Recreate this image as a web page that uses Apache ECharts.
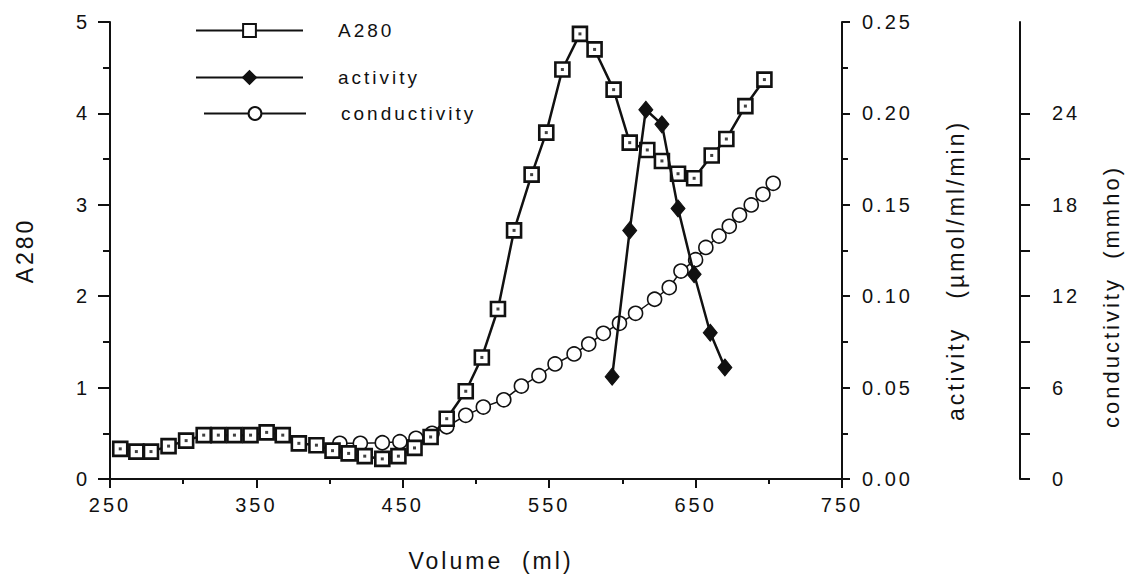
<!DOCTYPE html>
<html>
<head>
<meta charset="utf-8">
<script src="https://cdn.jsdelivr.net/npm/echarts@6/dist/echarts.min.js"></script>
<style>
html, body { margin: 0; padding: 0; background: #fff; }
#chart { width: 1125px; height: 580px; }
#chart svg text { letter-spacing: 3px; }
</style>
</head>
<body>
<div id="chart"></div>
<script>
// Volume (ml) for each A280 fraction
var volA280 = [257, 268, 278, 290, 302, 314, 324, 335, 346, 357, 368, 379, 391, 402, 413, 424, 436, 447, 458, 469, 480, 493, 504, 515, 526, 538, 548, 559, 571, 581, 594, 605, 617, 627, 638, 649, 661, 671, 684, 697];
var a280 = [0.33, 0.30, 0.30, 0.36, 0.42, 0.48, 0.48, 0.48, 0.48, 0.51, 0.48, 0.39, 0.37, 0.31, 0.28, 0.25, 0.22, 0.25, 0.34, 0.46, 0.66, 0.96, 1.33, 1.86, 2.72, 3.33, 3.79, 4.48, 4.87, 4.70, 4.26, 3.68, 3.60, 3.48, 3.34, 3.29, 3.54, 3.72, 4.08, 4.37];

var volActivity = [593, 605, 616, 627, 638, 649, 660, 670];
var activity = [0.056, 0.136, 0.202, 0.194, 0.148, 0.112, 0.080, 0.061];

var volCond = [407, 421, 436, 448, 459, 470, 480, 493, 505, 519, 531, 543, 554, 567, 577, 587, 598, 609, 622, 632, 640, 650, 657, 666, 673, 680, 688, 696, 703];
var conductivity = [2.34, 2.34, 2.38, 2.45, 2.67, 3.00, 3.43, 4.18, 4.72, 5.20, 6.10, 6.78, 7.55, 8.21, 8.86, 9.56, 10.22, 10.88, 11.80, 12.57, 13.65, 14.40, 15.20, 15.95, 16.59, 17.33, 17.99, 18.69, 19.41];

var condTicks = [0, 3, 6, 9, 12, 15, 18, 21, 24];
var condLabelMax = 24;

function pairs(xs, ys) { return xs.map(function (x, i) { return [x, ys[i]]; }); }

var INK = '#111';
var FONT = 'Liberation Sans';
var chart = echarts.init(document.getElementById('chart'), null, { renderer: 'svg' });

var legendBase = {
  orient: 'horizontal', itemWidth: 107, itemHeight: 16, padding: 0,
  textStyle: { fontFamily: FONT, fontSize: 19, color: INK, padding: [0, 0, 0, 30] },
  selectedMode: false
};

chart.setOption({
  animation: false,
  backgroundColor: '#fff',
  textStyle: { fontFamily: FONT },
  grid: { left: 110, right: 283, top: 22, bottom: 101, containLabel: false, outerBoundsMode: 'none' },
  legend: [
    Object.assign({}, legendBase, { data: ['A280'], left: 195, top: 21 }),
    Object.assign({}, legendBase, { data: ['activity'], left: 195, top: 68 }),
    Object.assign({}, legendBase, { data: ['conductivity'], left: 203, top: 104, itemWidth: 102 })
  ],
  xAxis: {
    type: 'value', min: 250, max: 750, interval: 100,
    name: 'Volume  (ml)', nameLocation: 'middle', nameGap: 70,
    nameTextStyle: { fontFamily: FONT, fontSize: 23, color: INK, padding: [0, 0, 0, 30] },
    axisLine: { lineStyle: { color: INK, width: 2 } },
    axisTick: { inside: false, length: 9, lineStyle: { color: INK, width: 2 } },
    minorTick: { show: true, splitNumber: 2, length: 5, lineStyle: { color: INK, width: 2 } },
    axisLabel: { fontFamily: FONT, fontSize: 20, color: INK, margin: 16 },
    splitLine: { show: false }
  },
  yAxis: [
    {
      type: 'value', position: 'left', min: 0, max: 5, interval: 1,
      name: 'A280', nameLocation: 'middle', nameRotate: 90, nameGap: 74,
      nameTextStyle: { fontFamily: FONT, fontSize: 23, color: INK },
      axisLine: { show: true, lineStyle: { color: INK, width: 2 } },
      axisTick: { show: true, inside: false, length: 12, lineStyle: { color: INK, width: 2 } },
      minorTick: { show: true, splitNumber: 2, length: 7, lineStyle: { color: INK, width: 2 } },
      axisLabel: { fontFamily: FONT, fontSize: 20, color: INK, margin: 20 },
      splitLine: { show: false }
    },
    {
      type: 'value', position: 'right', offset: 0, min: 0, max: 0.25, interval: 0.05,
      name: 'activity   (µmol/ml/min)', nameLocation: 'middle', nameRotate: 90, nameGap: 102,
      nameTextStyle: { fontFamily: FONT, fontSize: 23, color: INK, padding: [0, 40, 0, 0] },
      axisLine: { show: true, lineStyle: { color: INK, width: 2 } },
      axisTick: { show: true, inside: false, length: 8, lineStyle: { color: INK, width: 2 } },
      minorTick: { show: true, splitNumber: 2, length: 6, lineStyle: { color: INK, width: 2 } },
      axisLabel: { fontFamily: FONT, fontSize: 20, color: INK, margin: 20, align: 'left',
        formatter: function (v) { return v.toFixed(2); } },
      splitLine: { show: false }
    },
    {
      type: 'value', position: 'right', offset: 178, min: 0, max: 30, interval: 6,
      name: 'conductivity  (mmho)', nameLocation: 'middle', nameRotate: 90, nameGap: 80,
      nameTextStyle: { fontFamily: FONT, fontSize: 22, color: INK, padding: [0, 92, 0, 0] },
      axisLine: { show: true, lineStyle: { color: INK, width: 2 } },
      axisTick: { show: true, inside: false, length: 10, customValues: condTicks, lineStyle: { color: INK, width: 2 } },
      axisLabel: { fontFamily: FONT, fontSize: 20, color: INK, margin: 32, align: 'left',
        formatter: function (v) { return v > condLabelMax ? '' : String(v); } },
      splitLine: { show: false }
    }
  ],
  series: [
    {
      name: 'conductivity', type: 'line', yAxisIndex: 2, data: pairs(volCond, conductivity),
      symbol: 'circle', symbolSize: 14, z: 2,
      lineStyle: { color: INK, width: 1.5 },
      itemStyle: { color: '#fff', borderColor: INK, borderWidth: 1.6 }
    },
    {
      name: 'A280', type: 'line', yAxisIndex: 0, data: pairs(volA280, a280),
      symbol: 'rect', symbolSize: 14, z: 3,
      lineStyle: { color: INK, width: 2.5 },
      itemStyle: { color: '#fff', borderColor: INK, borderWidth: 2.6 }
    },
    {
      name: 'A280 centre', type: 'scatter', yAxisIndex: 0, data: pairs(volA280, a280),
      symbol: 'rect', symbolSize: 3, z: 4, silent: true,
      itemStyle: { color: INK }
    },
    {
      name: 'activity', type: 'line', yAxisIndex: 1, data: pairs(volActivity, activity),
      symbol: 'diamond', symbolSize: [14, 17], z: 5,
      lineStyle: { color: INK, width: 2.5 },
      itemStyle: { color: INK, borderColor: INK, borderWidth: 1 }
    }
  ]
});
</script>
</body>
</html>
